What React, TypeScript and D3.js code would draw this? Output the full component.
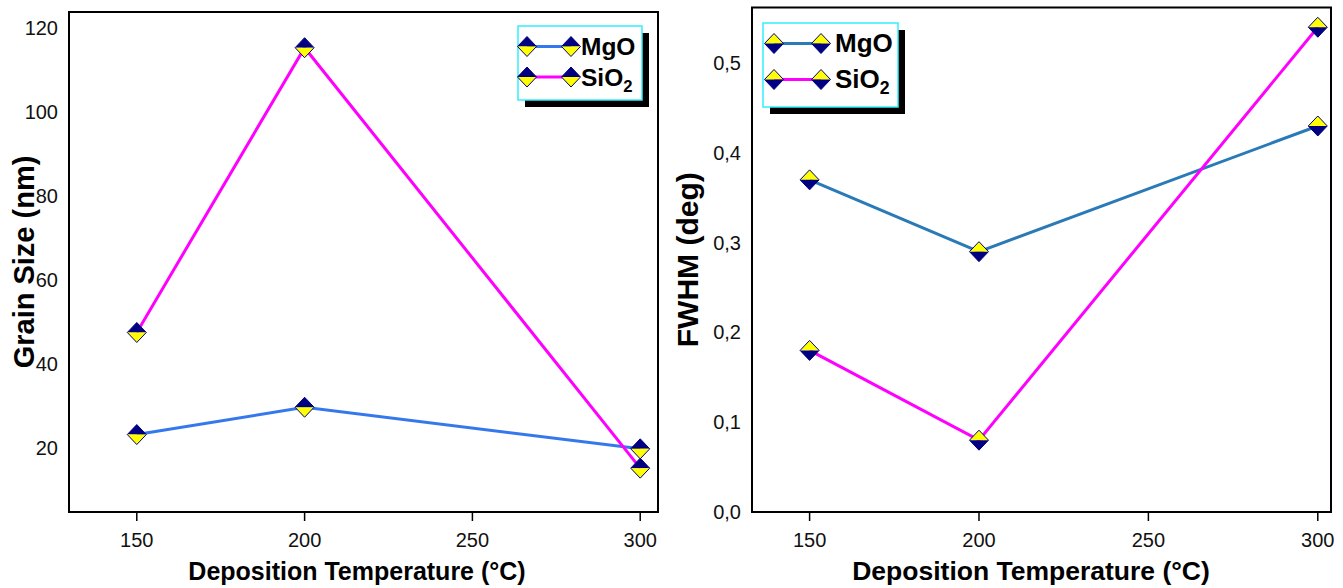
import React from "react";
import * as d3 from "d3";

const temps = [150, 200, 300];
const xTicks = [150, 200, 250, 300];

const grainMgO = [23.2, 29.7, 19.8];
const grainSiO2 = [47.5, 115.3, 15.2];
const grainTicks = [20, 40, 60, 80, 100, 120];

const fwhmMgO = [0.37, 0.29, 0.43];
const fwhmSiO2 = [0.18, 0.08, 0.54];
const fwhmTicks = [0, 0.1, 0.2, 0.3, 0.4, 0.5];

const seriesNames = ["MgO", "SiO"];

const FONT = "'Liberation Sans', Arial, Helvetica, sans-serif";
const NAVY = "#000080";
const YELLOW = "#ffff00";
const MAGENTA = "#ff00ff";

function Diamond({ x, y, topColor, bottomColor }: { x: number; y: number; topColor: string; bottomColor: string }) {
  const w = 9.5;
  const h = 10;
  return (
    <g>
      <path d={`M${x - w},${y} L${x},${y - h} L${x + w},${y} Z`} fill={topColor} />
      <path d={`M${x - w},${y} L${x},${y + h} L${x + w},${y} Z`} fill={bottomColor} />
      <path
        d={`M${x - w},${y} L${x},${y - h} L${x + w},${y} L${x},${y + h} Z`}
        fill="none"
        stroke={NAVY}
        strokeWidth={1}
      />
    </g>
  );
}

type PanelProps = {
  left: number;
  right: number;
  top: number;
  bottom: number;
  xDomain: [number, number];
  yDomain: [number, number];
  yTicks: number[];
  yFormat: (v: number) => string;
  mgo: number[];
  sio2: number[];
  mgoColor: string;
  topColor: string;
  bottomColor: string;
  yTitle: string;
  yTitleX: number;
  yTitleSize: number;
  xTitleSize: number;
  xTitleCx: number;
  legend: { x0: number; y0: number; x1: number; y1: number; m1: number; m2: number; tx: number; r1: number; r2: number; fs: number };
};

function Panel(p: PanelProps) {
  const x = d3.scaleLinear().domain(p.xDomain).range([p.left, p.right]);
  const y = d3.scaleLinear().domain(p.yDomain).range([p.bottom, p.top]);
  const line = d3
    .line<[number, number]>()
    .x((d) => x(d[0]))
    .y((d) => y(d[1]));
  const mgoPts = temps.map((t, i) => [t, p.mgo[i]] as [number, number]);
  const sioPts = temps.map((t, i) => [t, p.sio2[i]] as [number, number]);
  const L = p.legend;
  const cy = (p.top + p.bottom) / 2;
  return (
    <g fontFamily={FONT}>
      <path d={line(mgoPts) || ""} fill="none" stroke={p.mgoColor} strokeWidth={3} />
      <path d={line(sioPts) || ""} fill="none" stroke={MAGENTA} strokeWidth={3} />
      {mgoPts.map((d, i) => (
        <Diamond key={"m" + i} x={x(d[0])} y={y(d[1])} topColor={p.topColor} bottomColor={p.bottomColor} />
      ))}
      {sioPts.map((d, i) => (
        <Diamond key={"s" + i} x={x(d[0])} y={y(d[1])} topColor={p.topColor} bottomColor={p.bottomColor} />
      ))}
      <rect x={p.left} y={p.top} width={p.right - p.left} height={p.bottom - p.top} fill="none" stroke="#000" strokeWidth={2} />
      {xTicks.map((t) => (
        <g key={t}>
          <line x1={x(t)} x2={x(t)} y1={p.bottom} y2={p.bottom + 9} stroke="#000" strokeWidth={1.5} />
          <text x={x(t)} y={p.bottom + 35} fontSize={20} textAnchor="middle" fill="#111">
            {t}
          </text>
        </g>
      ))}
      {p.yTicks.map((t) => (
        <text key={t} x={p.left - 11} y={y(t) + 7} fontSize={20} textAnchor="end" fill="#111">
          {p.yFormat(t)}
        </text>
      ))}
      <text x={p.xTitleCx} y={580} fontSize={p.xTitleSize} fontWeight="bold" textAnchor="middle">
        Deposition Temperature (°C)
      </text>
      <text
        transform={`translate(${p.yTitleX},${cy}) rotate(-90)`}
        fontSize={p.yTitleSize}
        fontWeight="bold"
        textAnchor="middle"
      >
        {p.yTitle}
      </text>
      <rect x={L.x0 + 7} y={L.y0 + 7} width={L.x1 - L.x0} height={L.y1 - L.y0} fill="#000" />
      <rect x={L.x0} y={L.y0} width={L.x1 - L.x0} height={L.y1 - L.y0} fill="#fff" stroke="#33eeff" strokeWidth={1.5} />
      <line x1={L.m1} x2={L.m2} y1={L.r1} y2={L.r1} stroke={p.mgoColor} strokeWidth={3} />
      <Diamond x={L.m1} y={L.r1} topColor={p.topColor} bottomColor={p.bottomColor} />
      <Diamond x={L.m2} y={L.r1} topColor={p.topColor} bottomColor={p.bottomColor} />
      <line x1={L.m1} x2={L.m2} y1={L.r2} y2={L.r2} stroke={MAGENTA} strokeWidth={3} />
      <Diamond x={L.m1} y={L.r2} topColor={p.topColor} bottomColor={p.bottomColor} />
      <Diamond x={L.m2} y={L.r2} topColor={p.topColor} bottomColor={p.bottomColor} />
      <text x={L.tx} y={L.r1 + 8.5} fontSize={L.fs} fontWeight="bold">
        {seriesNames[0]}
      </text>
      <text x={L.tx} y={L.r2 + 8.5} fontSize={L.fs} fontWeight="bold">
        {seriesNames[1]}
        <tspan fontSize={L.fs * 0.68} dy={6}>
          2
        </tspan>
      </text>
    </g>
  );
}

export default function App() {
  const commaFmt = (v: number) => d3.format(".1f")(v).replace(".", ",");
  return (
    <svg
      width={1343}
      height={588}
      style={{ position: "absolute", left: 0, top: 0, background: "#fff" }}
    >
      <rect x={0} y={0} width={1343} height={588} fill="#fff" />
      <Panel
        left={69}
        right={658}
        top={12}
        bottom={512}
        xDomain={[129.8, 305.3]}
        yDomain={[4.76, 123.8]}
        yTicks={grainTicks}
        yFormat={(v) => String(v)}
        mgo={grainMgO}
        sio2={grainSiO2}
        mgoColor="#3578ee"
        topColor={NAVY}
        bottomColor={YELLOW}
        yTitle="Grain Size (nm)"
        yTitleX={34}
        yTitleSize={29}
        xTitleSize={25}
        xTitleCx={357}
        legend={{ x0: 518, y0: 26, x1: 642, y1: 100, m1: 527, m2: 571, tx: 581, r1: 46.5, r2: 77, fs: 24.5 }}
      />
      <Panel
        left={752}
        right={1331}
        top={7.5}
        bottom={512}
        xDomain={[133, 303.9]}
        yDomain={[0, 0.562]}
        yTicks={fwhmTicks}
        yFormat={commaFmt}
        mgo={fwhmMgO}
        sio2={fwhmSiO2}
        mgoColor="#2a7ab8"
        topColor={YELLOW}
        bottomColor={NAVY}
        yTitle="FWHM (deg)"
        yTitleX={698}
        yTitleSize={30}
        xTitleSize={26.5}
        xTitleCx={1031}
        legend={{ x0: 763, y0: 23, x1: 898, y1: 107, m1: 774, m2: 821, tx: 835, r1: 43.5, r2: 79.5, fs: 26 }}
      />
    </svg>
  );
}
